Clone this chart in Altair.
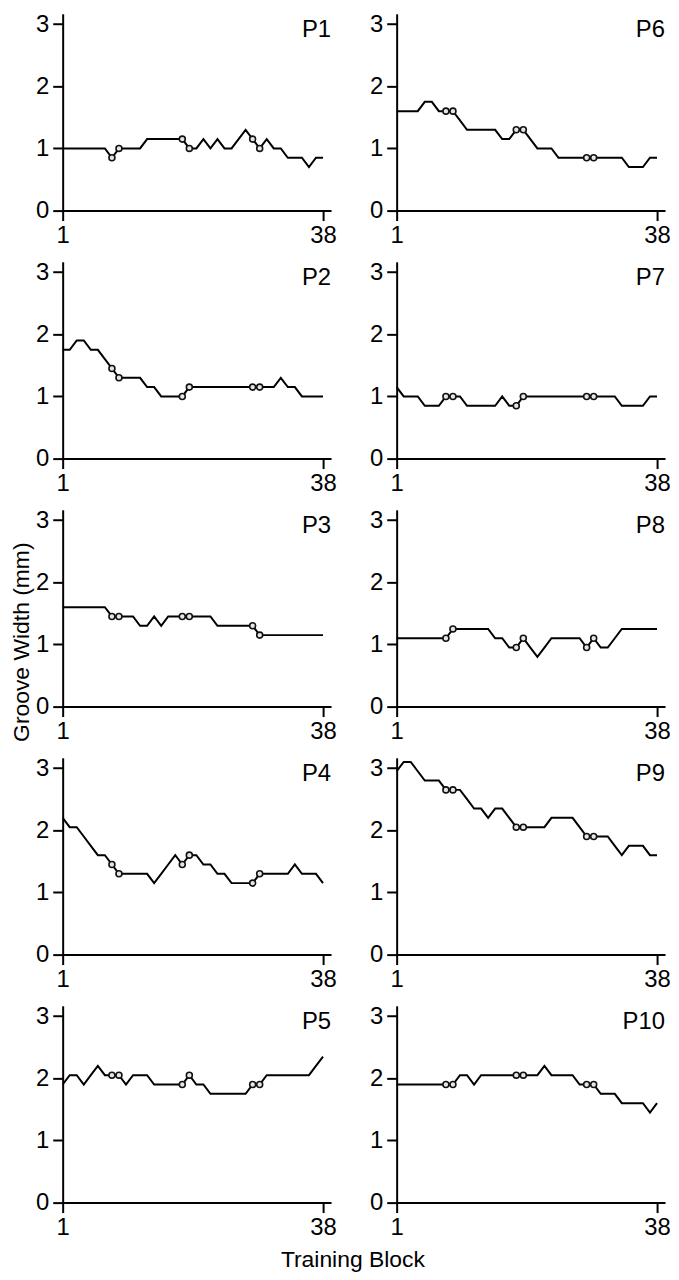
import altair as alt
import pandas as pd

FONT = "Liberation Sans"

BLOCKS = list(range(1, 39))
MARKED_BLOCKS = [8, 9, 18, 19, 28, 29]
X_TICKS = [1, 38]
Y_TICKS = [0, 1, 2, 3]

P1 = [1.0, 1.0, 1.0, 1.0, 1.0, 1.0, 1.0, 0.85, 1.0, 1.0, 1.0, 1.0, 1.15, 1.15, 1.15, 1.15, 1.15, 1.15, 1.0,
      1.0, 1.15, 1.0, 1.15, 1.0, 1.0, 1.15, 1.3, 1.15, 1.0, 1.15, 1.0, 1.0, 0.85, 0.85, 0.85, 0.7, 0.85, 0.85]
P2 = [1.75, 1.75, 1.9, 1.9, 1.75, 1.75, 1.6, 1.45, 1.3, 1.3, 1.3, 1.3, 1.15, 1.15, 1.0, 1.0, 1.0, 1.0, 1.15,
      1.15, 1.15, 1.15, 1.15, 1.15, 1.15, 1.15, 1.15, 1.15, 1.15, 1.15, 1.15, 1.3, 1.15, 1.15, 1.0, 1.0, 1.0, 1.0]
P3 = [1.6, 1.6, 1.6, 1.6, 1.6, 1.6, 1.6, 1.45, 1.45, 1.45, 1.45, 1.3, 1.3, 1.45, 1.3, 1.45, 1.45, 1.45, 1.45,
      1.45, 1.45, 1.45, 1.3, 1.3, 1.3, 1.3, 1.3, 1.3, 1.15, 1.15, 1.15, 1.15, 1.15, 1.15, 1.15, 1.15, 1.15, 1.15]
P4 = [2.2, 2.05, 2.05, 1.9, 1.75, 1.6, 1.6, 1.45, 1.3, 1.3, 1.3, 1.3, 1.3, 1.15, 1.3, 1.45, 1.6, 1.45, 1.6,
      1.6, 1.45, 1.45, 1.3, 1.3, 1.15, 1.15, 1.15, 1.15, 1.3, 1.3, 1.3, 1.3, 1.3, 1.45, 1.3, 1.3, 1.3, 1.15]
P5 = [1.9, 2.05, 2.05, 1.9, 2.05, 2.2, 2.05, 2.05, 2.05, 1.9, 2.05, 2.05, 2.05, 1.9, 1.9, 1.9, 1.9, 1.9, 2.05,
      1.9, 1.9, 1.75, 1.75, 1.75, 1.75, 1.75, 1.75, 1.9, 1.9, 2.05, 2.05, 2.05, 2.05, 2.05, 2.05, 2.05, 2.2, 2.35]
P6 = [1.6, 1.6, 1.6, 1.6, 1.75, 1.75, 1.6, 1.6, 1.6, 1.45, 1.3, 1.3, 1.3, 1.3, 1.3, 1.15, 1.15, 1.3, 1.3,
      1.15, 1.0, 1.0, 1.0, 0.85, 0.85, 0.85, 0.85, 0.85, 0.85, 0.85, 0.85, 0.85, 0.85, 0.7, 0.7, 0.7, 0.85, 0.85]
P7 = [1.15, 1.0, 1.0, 1.0, 0.85, 0.85, 0.85, 1.0, 1.0, 1.0, 0.85, 0.85, 0.85, 0.85, 0.85, 1.0, 0.85, 0.85, 1.0,
      1.0, 1.0, 1.0, 1.0, 1.0, 1.0, 1.0, 1.0, 1.0, 1.0, 1.0, 1.0, 1.0, 0.85, 0.85, 0.85, 0.85, 1.0, 1.0]
P8 = [1.1, 1.1, 1.1, 1.1, 1.1, 1.1, 1.1, 1.1, 1.25, 1.25, 1.25, 1.25, 1.25, 1.25, 1.1, 1.1, 0.95, 0.95, 1.1,
      0.95, 0.8, 0.95, 1.1, 1.1, 1.1, 1.1, 1.1, 0.95, 1.1, 0.95, 0.95, 1.1, 1.25, 1.25, 1.25, 1.25, 1.25, 1.25]
P9 = [2.95, 3.1, 3.1, 2.95, 2.8, 2.8, 2.8, 2.65, 2.65, 2.65, 2.5, 2.35, 2.35, 2.2, 2.35, 2.35, 2.2, 2.05, 2.05,
      2.05, 2.05, 2.05, 2.2, 2.2, 2.2, 2.2, 2.05, 1.9, 1.9, 1.9, 1.9, 1.75, 1.6, 1.75, 1.75, 1.75, 1.6, 1.6]
P10 = [1.9, 1.9, 1.9, 1.9, 1.9, 1.9, 1.9, 1.9, 1.9, 2.05, 2.05, 1.9, 2.05, 2.05, 2.05, 2.05, 2.05, 2.05, 2.05,
       2.05, 2.05, 2.2, 2.05, 2.05, 2.05, 2.05, 1.9, 1.9, 1.9, 1.75, 1.75, 1.75, 1.6, 1.6, 1.6, 1.6, 1.45, 1.6]

LEFT_COLUMN = [("P1", P1), ("P2", P2), ("P3", P3), ("P4", P4), ("P5", P5)]
RIGHT_COLUMN = [("P6", P6), ("P7", P7), ("P8", P8), ("P9", P9), ("P10", P10)]

X_DOMAIN = [1, 39]
Y_DOMAIN = [0, 3.15]
PANEL_W = 269
PANEL_H = 197


def panel(name, values):
    df = pd.DataFrame({"block": BLOCKS, "width": values})
    x = alt.X("block:Q", scale=alt.Scale(domain=X_DOMAIN, nice=False, zero=False),
              axis=alt.Axis(values=X_TICKS, title=None, labelFontSize=24, labelPadding=3,
                            labelFlush=False, format="d"))
    y = alt.Y("width:Q", scale=alt.Scale(domain=Y_DOMAIN, nice=False),
              axis=alt.Axis(values=Y_TICKS, title=None, labelFontSize=24, labelPadding=4,
                            format="d"))
    base = alt.Chart(df).encode(x=x, y=y)
    line = base.mark_line(color="black", strokeWidth=2, interpolate="linear")
    pts = base.transform_filter(
        alt.FieldOneOfPredicate(field="block", oneOf=MARKED_BLOCKS)
    ).mark_point(shape="circle", filled=True, fill="#e6e6e6", stroke="#111111",
                 strokeWidth=1.6, size=36, opacity=1)
    lab_df = pd.DataFrame({"block": [X_DOMAIN[1]], "width": [Y_DOMAIN[1]], "name": [name]})
    label = alt.Chart(lab_df).mark_text(align="right", baseline="top", fontSize=24, font=FONT,
                                        dy=3, dx=1, color="black").encode(
        x=alt.X("block:Q"), y=alt.Y("width:Q"), text="name:N")
    return alt.layer(line, pts, label).properties(width=PANEL_W, height=PANEL_H)


rows = []
for (ln, lv), (rn, rv) in zip(LEFT_COLUMN, RIGHT_COLUMN):
    rows.append(alt.hconcat(panel(ln, lv), panel(rn, rv), spacing=32))

grid = alt.vconcat(*rows, spacing=12.5).properties(
    title=alt.TitleParams("Training Block", orient="bottom", anchor="middle", fontSize=23,
                          font=FONT, fontWeight="normal", color="black", offset=10)
)

chart = alt.vconcat(grid).properties(
    title=alt.TitleParams("Groove Width (mm)", orient="left", anchor="middle", fontSize=23,
                          font=FONT, fontWeight="normal", color="black", offset=2),
    padding={"top": 0, "left": 2, "right": 0, "bottom": 0},
).configure_view(stroke=None).configure_axis(
    domainColor="black", domainWidth=2, tickColor="black", tickWidth=2, tickSize=10,
    labelColor="black", labelFont=FONT, grid=False, domainCap="square"
).configure_concat(spacing=0)

chart.save("out.html", embed_options={"renderer": "svg", "actions": False})
